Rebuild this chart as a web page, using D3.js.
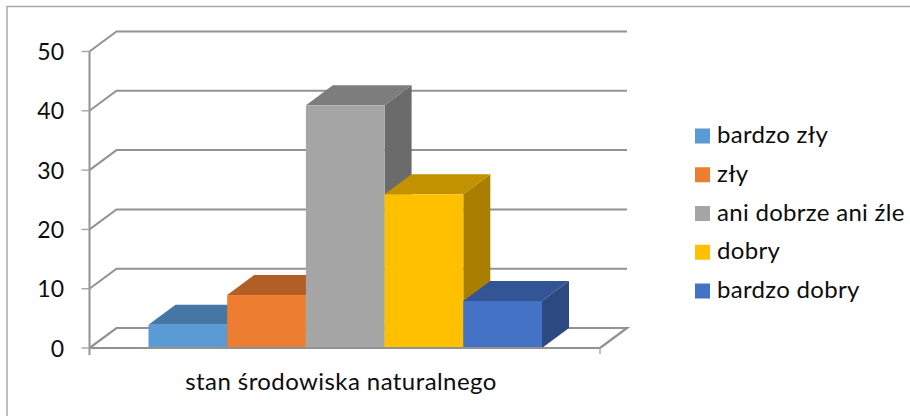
<!DOCTYPE html>
<html><head><meta charset="utf-8">
<script src="https://cdnjs.cloudflare.com/ajax/libs/d3/7.8.5/d3.min.js"></script>
<style>html,body{margin:0;padding:0;background:#fff}svg{display:block}text{font-family:"Lato",sans-serif;fill:#0d0d0d}</style>
</head><body><svg id="c" width="910" height="416"></svg>
<script>
const categoryLabel = "stan środowiska naturalnego";
const seriesNames = ["bardzo zły","zły","ani dobrze ani źle","dobry","bardzo dobry"];
const seriesValues = [3,8,40,25,7];
const seriesColors = ["#5b9bd5","#ed7d31","#a5a5a5","#ffc000","#4472c4"];
const topColors = ["#4676a3","#b25e25","#7d7d7d","#c29200","#335595"];
const sideColors = ["#3d6890","#9c5220","#6b6b6b","#a87f00","#2c4a81"];
const yTicks = [0,10,20,30,40,50];

const svg = d3.select("#c");
const y = d3.scaleLinear().domain([0,50]).range([348,51.5]);
const x = d3.scaleLinear().domain([0,1]).range([89.5,600]);
const band = d3.scaleBand().domain(seriesNames).range([148.5,542]);
const dx = 27, dy = -20, lift = 5.5;
const grid = "#929292";

svg.append("path").attr("d","M7,416V6.5H910").attr("fill","none").attr("stroke","#a6a6a6").attr("stroke-width",1.4);

yTicks.forEach(t=>{
  const p = d3.path();
  p.moveTo(x(0),y(t)); p.lineTo(x(0)+dx,y(t)+dy); p.lineTo(x(1)+dx,y(t)+dy);
  if(t===0){p.lineTo(x(1),y(0));}
  svg.append("path").attr("d",p.toString()).attr("fill","none").attr("stroke",grid).attr("stroke-width",t===0?2.2:2);
});

seriesNames.forEach((n,i)=>{
  const x0 = band(n), w = band.bandwidth(), top = y(seriesValues[i])-lift, bot = y(0);
  const g = svg.append("g");
  g.append("path").attr("fill",sideColors[i]).attr("d",d3.line()([[x0+w,top],[x0+w+dx,top+dy],[x0+w+dx,bot+dy],[x0+w,bot]]));
  g.append("path").attr("fill",topColors[i]).attr("d",d3.line()([[x0,top],[x0+dx,top+dy],[x0+w+dx,top+dy],[x0+w,top]]));
  g.append("rect").attr("x",x0).attr("y",top).attr("width",w).attr("height",bot-top).attr("fill",seriesColors[i]);
});

svg.append("line").attr("x1",x(0)).attr("x2",x(1)).attr("y1",y(0)).attr("y2",y(0)).attr("stroke",grid).attr("stroke-width",2.2);
svg.append("line").attr("x1",x(1)).attr("x2",x(1)).attr("y1",y(0)).attr("y2",y(0)+6).attr("stroke","#a6a6a6").attr("stroke-width",1.4);
svg.append("line").attr("x1",x(0)).attr("x2",x(0)).attr("y1",y(50)).attr("y2",y(0)+7).attr("stroke",grid).attr("stroke-width",2);
yTicks.forEach(t=>{
  svg.append("line").attr("x1",x(0)-8).attr("x2",x(0)).attr("y1",y(t)).attr("y2",y(t)).attr("stroke","#a6a6a6").attr("stroke-width",1.4);
  svg.append("text").attr("x",64).attr("y",y(t)+8.5).attr("text-anchor","end").attr("font-size",23).text(t);
});
svg.append("text").attr("x",341).attr("y",390).attr("text-anchor","middle").attr("font-size",24).attr("letter-spacing",0.42).text(categoryLabel);

const ly = d3.scaleLinear().domain([0,4]).range([136,291]);
seriesNames.forEach((n,i)=>{
  svg.append("rect").attr("x",695).attr("y",ly(i)-7.5).attr("width",15).attr("height",15).attr("fill",seriesColors[i]);
  svg.append("text").attr("x",717).attr("y",ly(i)+7).attr("font-size",24).attr("letter-spacing",0.3).text(n);
});
</script></body></html>
